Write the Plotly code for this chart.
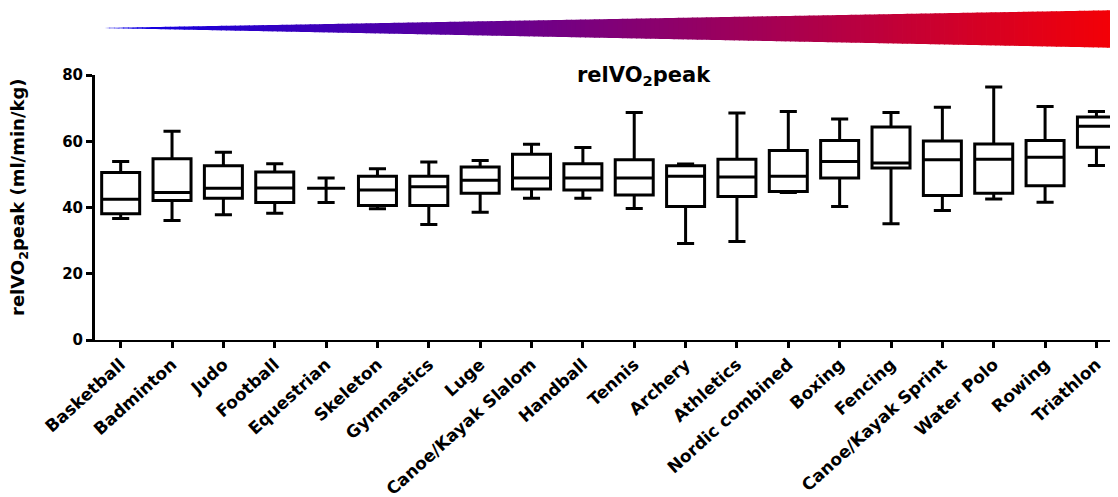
import plotly.graph_objects as go

sports = ["Basketball", "Badminton", "Judo", "Football", "Equestrian", "Skeleton",
          "Gymnastics", "Luge", "Canoe/Kayak Slalom", "Handball", "Tennis", "Archery",
          "Athletics", "Nordic combined", "Boxing", "Fencing", "Canoe/Kayak Sprint",
          "Water Polo", "Rowing", "Triathlon"]
lower = [36.7, 36.1, 37.8, 38.3, 41.5, 39.6, 34.9, 38.6, 42.8, 42.8, 39.7, 29.1,
         29.7, 44.5, 40.3, 35.1, 39.1, 42.6, 41.6, 52.7]
q1 = [38.1, 42.1, 42.8, 41.5, 45.8, 40.6, 40.6, 44.3, 45.6, 45.3, 43.8, 40.3,
      43.3, 44.8, 48.9, 51.9, 43.6, 44.3, 46.6, 58.2]
median = [42.5, 44.5, 45.8, 45.9, 45.8, 45.3, 46.3, 48.2, 48.9, 48.9, 48.9, 49.4,
          49.2, 49.4, 53.9, 53.4, 54.4, 54.6, 55.2, 64.5]
q3 = [50.6, 54.7, 52.6, 50.7, 45.8, 49.4, 49.4, 52.2, 56.1, 53.2, 54.4, 52.6,
      54.6, 57.2, 60.2, 64.3, 60.1, 59.2, 60.2, 67.3]
upper = [53.9, 63.0, 56.7, 53.2, 48.9, 51.7, 53.7, 54.2, 59.1, 58.1, 68.7, 53.1,
         68.5, 69.0, 66.7, 68.7, 70.3, 76.4, 70.5, 69.0]
y_ticks = [0, 20, 40, 60, 80]

W, H = 1118, 497
OFF = 8  # page body margin offset
L, R, T, B = 95 - OFF, OFF, 75 - OFF, 497 - (340 - OFF)
FONT = "DejaVu Sans, Liberation Sans, Arial, sans-serif"

fig = go.Figure()
fig.add_trace(go.Box(
    x=sports, q1=q1, median=median, q3=q3, lowerfence=lower, upperfence=upper,
    fillcolor="white", line=dict(color="black", width=3),
    width=0.74, whiskerwidth=0.45, hoverinfo="skip", showlegend=False,
))

# helpers: screen pixel -> paper coordinates
pw = W - L - R
ph = H - T - B
def px_x(p):
    return (p - OFF - L) / pw
def px_y(p):
    return (H - B - (p - OFF)) / ph

# gradient wedge decoration above the plot
N = 220
x_start, x_end = 100.0, 1126.0
tip_y, top_end, bot_end = 28.0, 10.0, 48.0
c0, c1 = (10, 0, 235), (245, 0, 5)
shapes = []
for i in range(N):
    ta = i / N
    tb = (i + 1) / N
    xa = x_start + (x_end - x_start) * ta
    xb = x_start + (x_end - x_start) * tb + 0.8
    tb2 = (xb - x_start) / (x_end - x_start)
    ya_top = tip_y + (top_end - tip_y) * ta
    ya_bot = tip_y + (bot_end - tip_y) * ta
    yb_top = tip_y + (top_end - tip_y) * tb2
    yb_bot = tip_y + (bot_end - tip_y) * tb2
    tm = min(1.0, (ta + tb) / 2 * (x_end - x_start) / (1118 - x_start))
    col = "rgb(%d,%d,%d)" % tuple(round(c0[k] + (c1[k] - c0[k]) * tm) for k in range(3))
    path = "M %f %f L %f %f L %f %f L %f %f Z" % (
        px_x(xa), px_y(ya_top), px_x(xb), px_y(yb_top),
        px_x(xb), px_y(yb_bot), px_x(xa), px_y(ya_bot))
    shapes.append(dict(type="path", xref="paper", yref="paper", path=path,
                       fillcolor=col, line=dict(width=0), layer="above"))

fig.update_layout(
    width=W, height=H,
    margin=dict(l=L, r=R, t=T, b=B, autoexpand=False),
    plot_bgcolor="white", paper_bgcolor="white",
    font=dict(family=FONT, color="black"),
    shapes=shapes,
    annotations=[
        dict(text="<b>relVO<sub>2</sub>peak</b>", x=px_x(644), xref="paper",
             y=px_y(76), yref="paper", showarrow=False, font=dict(size=21),
             xanchor="center", yanchor="middle"),
        dict(text="<b>relVO<sub>2</sub>peak (ml/min/kg)</b>", x=px_x(19), xref="paper",
             y=px_y(197), yref="paper", showarrow=False, font=dict(size=18),
             textangle=-90, xanchor="center", yanchor="middle"),
    ],
    xaxis=dict(
        range=[-0.5, 19.42], showline=True, linecolor="black", linewidth=2,
        ticks="outside", ticklen=6, tickwidth=2.5, tickcolor="black",
        tickangle=-42, tickfont=dict(size=17, weight="bold"), showgrid=False,
        zeroline=False, automargin=False,
    ),
    yaxis=dict(
        range=[0, 80], tickvals=y_ticks, showline=True, linecolor="black",
        linewidth=3, ticks="outside", ticklen=6, tickwidth=2.5, tickcolor="black",
        tickfont=dict(size=15, weight="bold"), showgrid=False, zeroline=False,
        automargin=False,
    ),
)

fig.write_html("out.html")
